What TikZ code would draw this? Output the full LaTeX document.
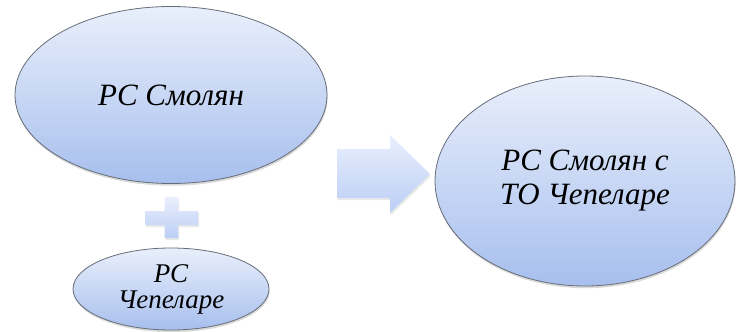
\documentclass[tikz,border=0pt]{standalone}
\usepackage{fontspec}
\setmainfont{Liberation Serif}
\usetikzlibrary{shapes.geometric,shadows}

\definecolor{ringgray}{HTML}{666D78}
\definecolor{blobtop}{HTML}{E9EFFB}
\definecolor{blobbot}{HTML}{A7BFEE}
\definecolor{signtop}{HTML}{E9EFFD}
\definecolor{signbot}{HTML}{BBCEF5}

\tikzset{
  blob/.style={ellipse, draw=ringgray, line width=0.8pt, inner sep=0pt,
    top color=blobtop, bottom color=blobbot, align=center,
    drop shadow={shadow xshift=0.6pt, shadow yshift=-2.2pt, opacity=0.3},
    font=\itshape\fontsize{31}{34}\selectfont},
  sign/.style={top color=signtop, bottom color=signbot, draw=none,
    drop shadow={shadow xshift=1pt, shadow yshift=-2pt, opacity=0.18}}
}

\begin{document}
\begin{tikzpicture}[x=1pt, y=-1pt]
	\useasboundingbox (0,0) rectangle (737,332);
	% ellipses
	\node[blob, minimum width=312pt, minimum height=177pt] (smolyan) at (171,95) {РС Смолян};
	\node[blob, minimum width=196pt, minimum height=82pt, font=\itshape\fontsize{27}{26}\selectfont] (chepelare) at (171,289) {РС\\Чепеларе};
	\node[blob, minimum width=300pt, minimum height=210pt] (merged) at (585,181) {РС Смолян с\\ТО Чепеларе};

	% plus
	\path[sign] (145,211) -- (164.5,211) -- (164.5,197) -- (178,197) -- (178,211)
		-- (198,211) -- (198,225) -- (178,225) -- (178,238) -- (164.5,238)
		-- (164.5,225) -- (145,225) -- cycle;

	% arrow
	\path[sign] (337,149) -- (390,149) -- (390,135) -- (430,174) -- (390,213)
		-- (390,198) -- (337,198) -- cycle;
\end{tikzpicture}
\end{document}
